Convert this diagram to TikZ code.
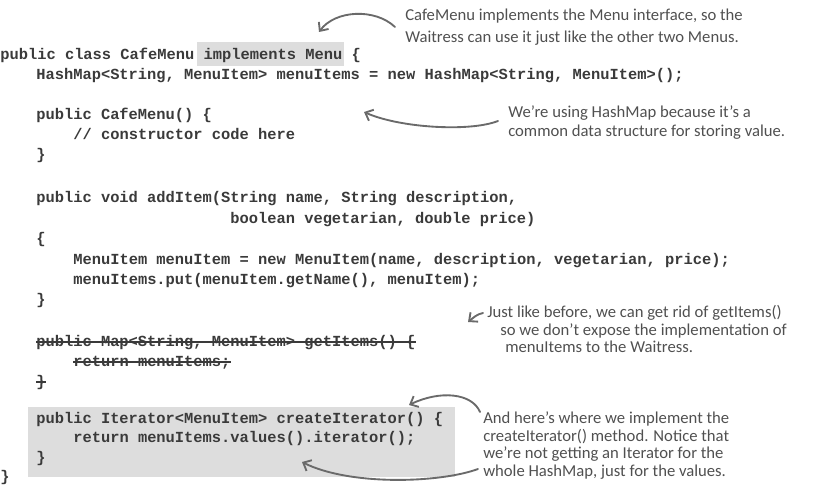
\documentclass[tikz,border=0pt]{standalone}
\usepackage{fontspec}
\setmonofont{Liberation Mono}
\newfontfamily\handfont[Ligatures=TeX]{Carlito}
\usetikzlibrary{arrows.meta}
\definecolor{codegray}{HTML}{3A3A3A}
\definecolor{notegray}{HTML}{505050}
\definecolor{arrowgray}{HTML}{6A6A6A}
\definecolor{boxgray}{HTML}{DDDDDD}

\begin{document}
\begin{tikzpicture}[x=0.75pt, y=-0.75pt, >={Straight Barb[length=5pt,width=9pt]},
    code/.style={anchor=base west, inner sep=0pt, text=codegray,
        font=\ttfamily\bfseries\fontsize{11.56}{13}\selectfont},
    note/.style={anchor=base west, inner sep=0pt, text=notegray,
        font=\handfont\fontsize{12.5}{14}\selectfont},
    arrowline/.style={->, draw=arrowgray, line width=1.4pt, line cap=round},
    strikeout/.style={draw=codegray, line width=.8pt}]
    \useasboundingbox (0,0) rectangle (813,491);

    % grey marks behind the code
    \fill[boxgray] (197,42) rectangle (344,66);
    \fill[boxgray] (28,407) rectangle (455,477);

    \node[code] (l0) at (0,60) {public class CafeMenu implements Menu \{};
    \node[code] (l1) at (36,80) {HashMap<String, MenuItem> menuItems = new HashMap<String, MenuItem>();};
    \node[code] (l3) at (36,120) {public CafeMenu() \{};
    \node[code] (l4) at (73,140) {// constructor code here};
    \node[code] (l5) at (36,160) {\}};
    \node[code] (l7) at (36,203) {public void addItem(String name, String description,};
    \node[code] (l8) at (230,223.5) {boolean vegetarian, double price)};
    \node[code] (l9) at (36,244) {\{};
    \node[code] (l10) at (73,264.5) {MenuItem menuItem = new MenuItem(name, description, vegetarian, price);};
    \node[code] (l11) at (73,285) {menuItems.put(menuItem.getName(), menuItem);};
    \node[code] (l12) at (36,305) {\}};
    \node[code] (l14) at (36,346) {public Map<String, MenuItem> getItems() \{};
    \node[code] (l15) at (73,366) {return menuItems;};
    \node[code] (l16) at (36,386) {\}};
    \node[code] (l18) at (36,423) {public Iterator<MenuItem> createIterator() \{};
    \node[code] (l19) at (73,442.5) {return menuItems.values().iterator();};
    \node[code] (l20) at (36,462) {\}};
    \node[code] (l21) at (0,481) {\}};

    \foreach \l in {l14,l15,l16}
    {
        \draw[strikeout] ([yshift=3pt]\l.base west) -- ([yshift=3pt]\l.base east);
    }

    \node[note] (n1a) at (405,21) {CafeMenu implements the Menu interface, so the};
    \node[note] (n1b) at (405,43) {Waitress can use it just like the other two Menus.};
    \node[note] (n2a) at (508,118) {We’re using HashMap because it’s a};
    \node[note] (n2b) at (508,137) {common data structure for storing value.};
    \node[note] (n3a) at (487,317) {Just like before, we can get rid of getItems()};
    \node[note] (n3b) at (500,335) {so we don’t expose the implementation of};
    \node[note] (n3c) at (505,352) {menuItems to the Waitress.};
    \node[note] (n4a) at (483,423) {And here’s where we implement the};
    \node[note] (n4b) at (483,441) {createIterator() method. Notice that};
    \node[note] (n4c) at (483,458) {we’re not getting an Iterator for the};
    \node[note] (n4d) at (483,476) {whole HashMap, just for the values.};

    \coordinate (a1s) at (395,27);  \coordinate (a1e) at (319,32);
    \coordinate (a2s) at (498,121); \coordinate (a2e) at (364,112);
    \coordinate (a3s) at (483,313); \coordinate (a3e) at (468,322);
    \coordinate (a4s) at (480,412); \coordinate (a4e) at (409,405);
    \coordinate (a5s) at (478,469); \coordinate (a5e) at (302,462);

    \draw[arrowline] (a1s) .. controls (375,8) and (335,10) .. (a1e);
    \draw[arrowline] (a2s) .. controls (470,132) and (400,128) .. (a2e);
    \draw[arrowline] (a3s) .. controls (477,314) and (473,318) .. (a3e);
    \draw[arrowline] (a4s) .. controls (472,393) and (440,390) .. (a4e);
    \draw[arrowline] (a5s) .. controls (440,483) and (350,486) .. (a5e);
\end{tikzpicture}
\end{document}
